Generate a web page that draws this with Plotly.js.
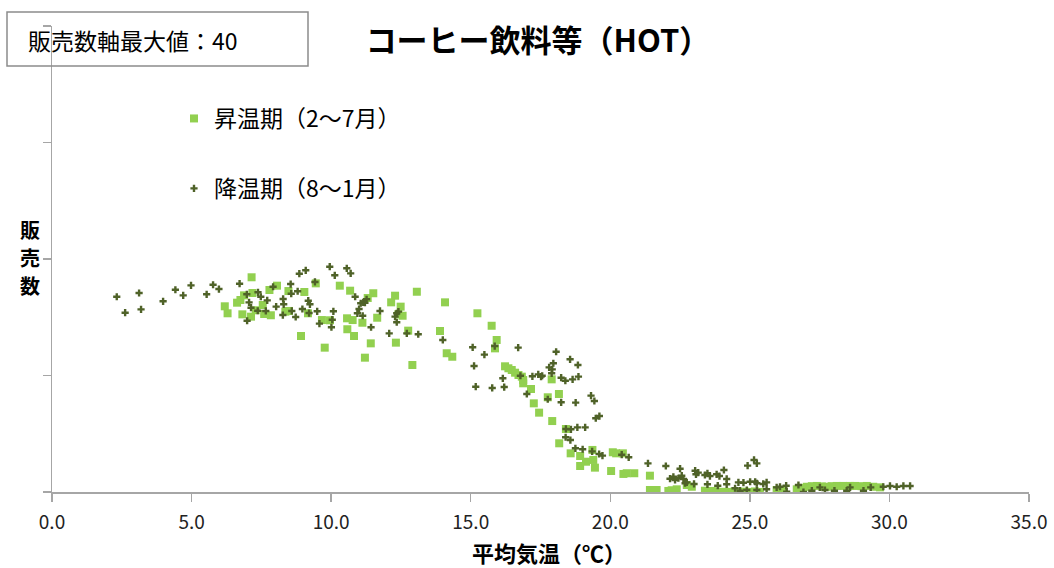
<!DOCTYPE html>
<html>
<head>
<meta charset="utf-8">
<script src="https://cdn.plot.ly/plotly-3.0.1.min.js"></script>
<style>html,body{margin:0;padding:0;background:#fff;}#chart{width:1054px;height:568px;}</style>
</head>
<body>
<div id="chart"></div>
<script>
// 昇温期（2～7月）
const heatX = [7.15,6.19,6.29,6.63,6.75,6.88,6.82,7.18,7.13,7.30,
  7.55,7.60,7.84,7.79,8.06,8.47,8.36,8.49,9.04,9.17,
  9.45,9.67,9.96,8.92,9.77,10.31,10.57,10.58,10.68,11.31,
  11.51,12.29,12.15,12.49,13.07,14.08,10.77,11.12,11.65,12.56,
  12.41,10.82,11.42,12.32,12.76,13.90,15.24,15.75,15.93,15.87,
  11.21,12.91,14.14,14.34,16.23,16.35,16.47,16.59,16.71,16.83,
  16.88,16.88,17.16,17.90,18.16,17.76,17.26,17.45,17.92,18.41,
  18.17,18.58,18.92,19.13,18.92,19.39,19.36,19.45,20.03,20.09,
  20.21,20.45,20.47,20.59,20.86,21.42,21.42,21.66,22.08,22.38,
  22.74,22.92,23.39,23.63,23.93,24.29,24.65,25.01,25.36,25.96,
  26.20,26.68,27.04,27.40,27.75,28.11,28.59,28.77,29.19,29.42,
  29.66,23.52,23.80,24.10,24.45,24.82,25.18,22.20,26.90,27.22,
  27.58,27.93,28.35,29.00];
const heatY = [18.43,15.94,15.34,16.25,16.48,16.88,15.25,17.08,15.05,15.60,
  16.05,15.28,15.17,17.34,17.71,17.25,15.48,15.54,17.17,15.34,
  17.91,14.76,14.74,13.39,12.39,17.71,14.91,13.97,17.28,16.65,
  17.06,16.85,16.28,15.91,17.19,16.28,14.76,14.53,14.96,15.13,
  15.25,13.39,12.76,12.82,13.85,13.82,15.34,14.27,13.05,12.33,
  11.53,10.90,11.91,11.61,10.79,10.62,10.47,10.24,10.04,9.90,
  9.61,9.33,8.84,9.67,8.41,8.13,7.61,6.81,6.09,5.41,
  4.18,3.32,3.09,2.60,2.23,2.75,3.61,2.09,1.80,3.41,
  3.32,3.32,1.55,1.61,1.61,1.40,0.17,0.17,0.09,0.23,
  0.60,0.45,0.11,0.09,0.00,0.00,0.00,0.00,0.00,0.17,
  0.17,0.23,0.45,0.52,0.45,0.52,0.52,0.52,0.52,0.45,
  0.40,0.05,0.05,0.02,0.05,0.03,0.05,0.15,0.35,0.50,
  0.48,0.50,0.52,0.50];

// 降温期（8～1月）
const coolX = [2.32,2.62,3.12,3.19,3.98,4.42,4.70,4.98,5.54,5.77,
  5.98,6.72,6.98,7.06,6.99,7.13,7.38,7.48,7.37,7.66,
  7.71,7.92,8.03,8.28,8.30,8.27,8.55,8.57,8.59,8.73,
  8.80,8.86,9.09,8.97,9.18,9.24,9.21,9.42,9.50,9.58,
  9.95,10.13,10.08,10.04,10.01,10.56,10.70,10.86,11.06,11.15,
  11.27,11.21,11.00,10.94,11.13,11.75,11.43,12.08,12.35,12.41,
  12.29,12.35,12.71,13.12,14.00,15.07,15.49,15.12,15.86,16.70,
  16.15,16.78,15.18,15.77,16.20,17.21,17.42,17.52,17.56,18.06,
  17.81,17.92,17.96,17.90,18.56,18.84,18.24,18.39,18.65,18.86,
  17.01,17.76,18.24,18.76,19.31,19.43,19.48,19.61,18.41,18.59,
  18.82,19.10,18.40,18.57,18.75,19.01,19.35,19.60,19.72,20.41,
  20.66,21.35,21.99,22.50,22.14,22.26,22.32,22.44,22.56,22.62,
  23.04,23.07,23.15,23.48,23.39,23.57,23.81,23.91,24.07,24.17,
  22.68,22.74,23.00,23.48,23.85,24.17,24.92,25.15,25.25,24.59,
  24.77,25.01,25.19,25.25,25.60,25.48,24.47,24.65,24.89,25.25,
  25.60,25.96,26.08,26.30,26.32,26.74,26.92,27.22,27.51,27.69,
  28.03,28.47,28.59,29.07,29.33,29.78,30.02,30.26,30.50,30.74];
const coolY = [16.76,15.39,17.08,15.68,16.37,17.36,16.88,17.74,16.97,17.79,
  17.42,17.88,16.97,16.28,14.70,15.82,17.14,16.76,15.56,15.54,
  16.45,17.62,15.91,16.57,16.11,15.19,17.85,17.02,15.54,15.02,
  17.23,18.74,19.03,15.71,16.42,16.11,15.36,18.03,15.51,14.45,
  19.34,18.60,15.51,14.79,14.14,19.20,18.77,16.76,16.20,16.28,
  16.54,16.25,15.71,15.34,15.13,15.54,14.14,13.62,15.34,15.48,
  15.05,14.57,13.62,13.54,13.05,12.42,11.79,10.82,12.53,12.39,
  9.76,9.98,9.04,8.93,9.01,9.93,10.10,9.90,9.98,12.04,
  10.70,10.53,11.05,10.19,11.39,10.90,9.81,9.55,9.67,9.90,
  8.41,7.96,7.70,7.67,8.27,7.81,6.33,6.52,5.41,5.38,
  5.55,5.55,4.70,4.46,3.75,3.67,3.49,3.26,3.12,3.20,
  2.98,2.46,2.23,2.00,1.14,1.31,1.03,1.18,1.40,1.12,
  1.83,1.52,1.66,1.61,1.46,1.37,1.52,1.37,1.89,1.12,
  0.75,0.83,0.69,0.66,0.54,0.66,2.26,2.75,2.46,0.83,
  0.80,0.88,0.88,0.75,0.83,0.69,0.32,0.11,0.17,0.17,
  0.23,0.40,0.45,0.54,0.03,0.60,0.00,0.11,0.40,0.17,
  0.11,0.11,0.40,0.11,0.40,0.45,0.52,0.45,0.52,0.52];

const seriesNames = ['昇温期（2～7月）', '降温期（8～1月）'];
const chartTitle = 'コーヒー飲料等（HOT）';
const xTitle = '平均気温（℃）';
const yTitleChars = ['販', '売', '数'];
const boxText = '販売数軸最大値：40';
const yMax = 40;

const JP = '"Noto Sans CJK JP", "Noto Sans", sans-serif';
const NUM = '"Liberation Sans Narrow", "Noto Sans CJK JP", sans-serif';

// plot area pixel helpers (layout only)
const PL = 52, PW = 977, PB = 492, PH = 466;
const px = v => (v - PL) / PW;
const py = v => (PB - v) / PH;

const traces = [
  {
    type: 'scatter', mode: 'markers', name: seriesNames[0],
    x: heatX, y: heatY, legendgroup: 'a',
    marker: {symbol: 'square', size: 8, color: '#92d050'}
  },
  {
    type: 'scatter', mode: 'markers', name: seriesNames[1],
    x: coolX, y: coolY, legendgroup: 'b',
    marker: {symbol: 'cross', size: 6, color: '#4f6228'}
  }
];

const annotations = yTitleChars.map((ch, i) => ({
  text: ch, xref: 'paper', yref: 'paper',
  x: px(30), y: py(230 + i * 27.5), xanchor: 'center', yanchor: 'middle',
  showarrow: false, font: {family: JP, size: 20, color: '#000', weight: 'bold'}
}));
annotations.push({
  text: boxText, xref: 'paper', yref: 'paper',
  x: px(26), y: py(40), xanchor: 'left', yanchor: 'middle',
  showarrow: false, font: {family: JP, size: 23, color: '#000'}
});
annotations.push({
  text: xTitle, xref: 'paper', yref: 'paper',
  x: px(549), y: py(552), xanchor: 'center', yanchor: 'middle',
  showarrow: false, font: {family: JP, size: 22, color: '#000', weight: 'bold'}
});

const layout = {
  width: 1054, height: 568,
  margin: {l: PL, r: 1054 - PL - PW, t: 26, b: 568 - PB},
  paper_bgcolor: '#fff', plot_bgcolor: '#fff',
  font: {family: JP, color: '#000'},
  title: {
    text: chartTitle, font: {family: JP, size: 31, color: '#000', weight: 'bold'},
    x: 538 / 1054, xanchor: 'center', xref: 'container',
    y: 1 - 41 / 568, yanchor: 'middle', yref: 'container'
  },
  showlegend: true,
  legend: {
    x: px(174), y: py(97), xanchor: 'left', yanchor: 'top',
    font: {family: JP, size: 23, color: '#000'},
    traceorder: 'grouped', tracegroupgap: 37,
    bgcolor: 'rgba(0,0,0,0)'
  },
  xaxis: {
    range: [0, 35], dtick: 5, tick0: 0, tickformat: '.1f',
    showgrid: false, zeroline: false,
    showline: true, linecolor: '#a6a6a6', linewidth: 1.5,
    ticks: 'outside', ticklen: 8, tickcolor: '#a6a6a6', tickwidth: 1.5,
    tickfont: {family: NUM, size: 19, color: '#222'},
    ticklabelstandoff: 5
  },
  yaxis: {
    range: [0, yMax], dtick: 10, tick0: 0,
    showgrid: false, zeroline: false,
    showline: true, linecolor: '#a6a6a6', linewidth: 1.5,
    ticks: 'outside', ticklen: 8, tickcolor: '#a6a6a6', tickwidth: 1.5,
    showticklabels: false
  },
  shapes: [
    {type: 'rect', xref: 'paper', yref: 'paper',
     x0: px(7), x1: px(308), y0: py(66), y1: py(12),
     line: {color: '#8c8c8c', width: 1.5}, fillcolor: 'rgba(0,0,0,0)'}
  ],
  annotations: annotations
};

Plotly.newPlot('chart', traces, layout, {displayModeBar: false, staticPlot: true});
</script>
</body>
</html>
